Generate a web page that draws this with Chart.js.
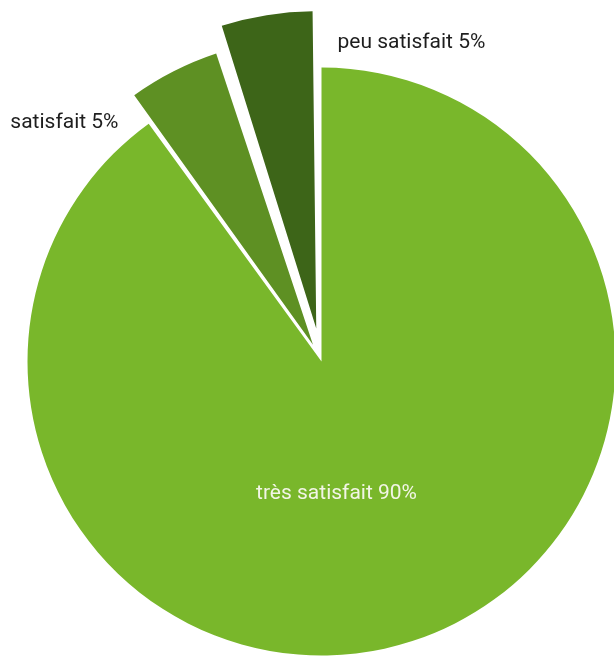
<!DOCTYPE html>
<html>
<head>
<meta charset="utf-8">
<script src="https://cdn.jsdelivr.net/npm/chart.js@4/dist/chart.umd.min.js"></script>
<style>
    body { margin: 0; background: #fff; }
    #wrap { width: 614px; height: 657px; }
</style>
</head>
<body>
<div id="wrap"><canvas id="myChart" width="614" height="657"></canvas></div>
<script>
const labels = ["très satisfait", "satisfait", "peu satisfait"];
const values = [90, 5, 5];
const colors = ["#79b72b", "#5e9023", "#3d6518"];
const offsets = [0, 75, 134];

// label placement relative to the pie centre (dx, dy, align, colour)
const labelSpots = [
    { dx: 15, dy: 137, align: "center", color: "#f2f5e6" },
    { dx: -203, dy: -234, align: "right", color: "#1e1e1e" },
    { dx: 16, dy: -314, align: "left", color: "#1e1e1e" }
];

const sliceLabels = {
    id: 'sliceLabels',
    afterDatasetsDraw(chart) {
        const ctx = chart.ctx;
        const arcs = chart.getDatasetMeta(0).data;
        if (!arcs.length) return;
        const cx = arcs[0].x;
        const cy = arcs[0].y;
        ctx.save();
        ctx.font = "21px Roboto";
        ctx.textBaseline = "alphabetic";
        labels.forEach((lab, i) => {
            const s = labelSpots[i];
            ctx.fillStyle = s.color;
            ctx.textAlign = s.align;
            ctx.fillText(`${lab} ${values[i]}%`, cx + s.dx, cy + s.dy);
        });
        ctx.restore();
    }
};

function drawChart() {
    const ctx = document.getElementById('myChart').getContext('2d');
    new Chart(ctx, {
        type: 'pie',
        data: {
            labels: labels,
            datasets: [{
                data: values,
                backgroundColor: colors,
                borderWidth: 0,
                offset: offsets,
                hoverOffset: 0
            }]
        },
        options: {
            responsive: false,
            animation: false,
            radius: 294,
            layout: { padding: { left: 29, right: 0, top: 66, bottom: 0 } },
            plugins: {
                legend: { display: false },
                tooltip: { enabled: false }
            },
            events: []
        },
        plugins: [sliceLabels]
    });
}

drawChart();
</script>
</body>
</html>
